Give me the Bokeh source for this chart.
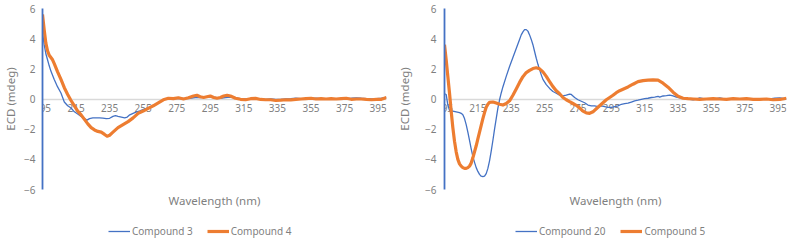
from bokeh.plotting import figure
from bokeh.models import FixedTicker, LinearAxis, Legend, LegendItem, Range1d
from bokeh.layouts import row, column
from bokeh.embed import file_html
from bokeh.resources import INLINE

# ---------------- data ----------------
x_ticks = [195, 215, 235, 255, 275, 295, 315, 335, 355, 375, 395]
y_ticks = [-6, -4, -2, 0, 2, 4, 6]

# Left chart
c3_wl = [195, 196, 197, 198, 199, 200, 202, 204, 206, 208, 210, 212, 214, 216, 218, 220,
         221.5, 223, 225, 227, 229, 231, 233, 235, 237, 238.5, 240, 242, 244, 245.5, 247,
         250, 253, 256, 259, 262, 265, 268, 271, 274, 277, 280, 283, 286, 289, 292, 295,
         298, 301, 304, 307, 310, 313, 316, 319, 322, 325, 328, 331, 334, 337, 340, 343,
         346, 349, 352, 355, 358, 361, 364, 367, 370, 373, 376, 379, 382, 385, 388, 391,
         394, 397, 400]
c3_ecd = [4.4, 3.6, 3.0, 2.6, 2.2, 1.85, 1.3, 0.8, 0.4, -0.2, -0.45, -0.6, -0.85, -1.0, -1.15, -1.3,
          -1.4, -1.3, -1.25, -1.25, -1.25, -1.27, -1.3, -1.28, -1.15, -1.1, -1.15, -1.2, -1.25, -1.2, -1.05,
          -0.9, -0.78, -0.65, -0.55, -0.4, -0.2, 0.0, 0.03, 0.02, 0.05, 0.02, 0.05, 0.1, 0.1, 0.12, 0.15,
          0.1, 0.05, 0.1, 0.12, 0.08, 0.03, 0.0, 0.02, 0.0, 0.0, -0.02, 0.0, -0.03, -0.02, 0.0, 0.02,
          0.05, 0.03, 0.0, 0.02, 0.05, 0.02, 0.03, 0.0, 0.02, 0.0, 0.03, 0.05, 0.08, 0.05, 0.03, 0.0,
          0.02, 0.05, 0.1]

c4_wl = [195, 196, 197, 198, 199, 200, 201, 202, 204, 206, 208, 210, 212, 214, 216, 218, 220, 222,
         224, 226, 228, 230, 232, 233.5, 235, 237, 240, 243, 246, 249, 252, 255, 258, 261, 264, 267,
         270, 273, 276, 279, 282, 285, 287, 289, 291, 293, 295, 297, 299, 301, 303, 305, 307, 310,
         313, 316, 319, 322, 325, 328, 331, 334, 337, 340, 343, 346, 349, 352, 355, 358, 361, 364,
         367, 370, 373, 376, 379, 382, 385, 388, 391, 394, 397, 400]
c4_ecd = [5.6, 4.6, 3.7, 3.2, 2.9, 2.75, 2.6, 2.35, 1.8, 1.3, 0.75, 0.3, -0.1, -0.45, -0.8, -1.05, -1.35, -1.65,
          -1.9, -2.05, -2.15, -2.2, -2.35, -2.47, -2.4, -2.2, -1.9, -1.7, -1.5, -1.25, -0.95, -0.8, -0.62, -0.45, -0.25, -0.05,
          0.05, 0.02, 0.08, 0.0, 0.08, 0.2, 0.25, 0.15, 0.1, 0.15, 0.2, 0.1, 0.05, 0.1, 0.2, 0.25, 0.2, 0.05,
          -0.02, -0.05, 0.02, 0.04, -0.03, -0.05, -0.05, -0.1, -0.08, -0.05, -0.06, -0.03, 0.0, 0.03, 0.05, 0.0, 0.02, 0.0,
          0.02, 0.0, 0.03, 0.05, -0.02, 0.0, 0.0, -0.03, -0.05, -0.02, -0.02, 0.1]

# Right chart
c20_wl = [195, 196, 197, 198, 199, 200, 202, 204, 205, 206, 207, 208, 209, 210, 211, 212, 213, 214,
          215, 216, 217, 218, 219, 220, 221, 222, 223, 224, 225, 226, 227, 228, 229, 230, 232, 234,
          236, 238, 240, 241, 242, 243, 244, 245, 246, 247, 248, 249, 250, 251, 252, 253, 254, 256,
          258, 260, 262, 264, 266, 268, 270, 271, 273, 275, 277, 279, 281, 283, 285, 287, 289, 291,
          293, 295, 297, 299, 301, 303, 305, 307, 309, 311, 313, 315, 317, 319, 321, 323, 324, 326,
          328, 330, 332, 334, 336, 338, 340, 342, 344, 346, 348, 350, 354, 358, 360, 362, 366, 370,
          374, 378, 382, 386, 390, 393, 396, 400]
c20_ecd = [0.35, 0.3, -0.4, -0.75, -0.8, -0.8, -0.85, -0.9, -0.95, -1.05, -1.3, -1.7, -2.2, -2.75, -3.3, -3.8, -4.2, -4.55,
           -4.8, -5.0, -5.12, -5.15, -5.12, -4.95, -4.6, -4.1, -3.45, -2.75, -2.0, -1.3, -0.6, -0.05, 0.4, 0.8, 1.5, 2.15,
           2.75, 3.35, 3.95, 4.25, 4.45, 4.6, 4.6, 4.5, 4.25, 3.95, 3.6, 3.15, 2.7, 2.3, 1.95, 1.6, 1.3, 0.95,
           0.7, 0.5, 0.38, 0.25, 0.2, 0.25, 0.33, 0.3, 0.1, -0.05, -0.15, -0.25, -0.4, -0.45, -0.45, -0.5, -0.45, -0.5,
           -0.55, -0.55, -0.5, -0.45, -0.35, -0.3, -0.28, -0.2, -0.12, -0.08, -0.03, 0.02, 0.05, 0.1, 0.13, 0.18, 0.12, 0.2,
           0.22, 0.25, 0.2, 0.12, 0.08, 0.04, 0.0, -0.03, -0.05, 0.0, 0.08, 0.02, 0.0, 0.02, 0.08, 0.02, 0.0, 0.02,
           0.0, 0.02, 0.0, 0.02, 0.0, 0.05, 0.08, 0.0]

c5_wl = [195, 196, 197, 198, 199, 200, 201, 202, 203, 204, 205, 206, 207, 208, 209, 210, 211, 212,
         213, 214, 215, 216, 217, 218, 219, 220, 221, 222, 224, 226, 228, 230, 232, 234, 236, 238,
         240, 242, 244, 246, 248, 250, 252, 254, 256, 258, 260, 262, 264, 266, 268, 270, 272, 274,
         276, 278, 280, 282, 284, 286, 288, 290, 292, 294, 296, 298, 300, 302, 305, 308, 311, 314,
         317, 320, 323, 326, 329, 332, 335, 338, 341, 344, 348, 352, 356, 360, 364, 368, 372, 376,
         380, 384, 388, 392, 396, 400]
c5_ecd = [3.6, 2.6, 1.5, 0.4, -0.8, -1.9, -2.8, -3.5, -4.0, -4.3, -4.45, -4.55, -4.6, -4.6, -4.55, -4.45, -4.25, -3.9,
          -3.5, -3.1, -2.65, -2.2, -1.75, -1.3, -0.9, -0.55, -0.35, -0.22, -0.2, -0.27, -0.35, -0.4, -0.3, -0.12, 0.25, 0.67,
          1.1, 1.48, 1.75, 1.9, 2.02, 2.07, 2.0, 1.8, 1.5, 1.15, 0.82, 0.55, 0.35, 0.1, -0.05, -0.18, -0.3, -0.42,
          -0.6, -0.8, -0.92, -0.95, -0.85, -0.65, -0.45, -0.25, -0.05, 0.1, 0.25, 0.42, 0.55, 0.65, 0.8, 0.98, 1.15, 1.22,
          1.25, 1.27, 1.25, 1.05, 0.78, 0.45, 0.18, 0.05, 0.02, 0.0, -0.02, 0.0, 0.02, 0.0, -0.02, 0.02, 0.0, 0.02,
          -0.02, -0.03, 0.0, -0.05, -0.03, 0.05]

assert len(c3_wl) == len(c3_ecd)
assert len(c4_wl) == len(c4_ecd)
assert len(c20_wl) == len(c20_ecd)
assert len(c5_wl) == len(c5_ecd)

# ---------------- style ----------------
GRAY = "#7f7f7f"
ZERO = "#d9d9d9"
BLUE = "#4472C4"
ORANGE = "#ED7D31"
FONT = "Noto Sans"
CHART_H = 210
LEGEND_H = 28


def make_chart(width, border_left, border_right, label_standoff, title_standoff, xa_, ya_, xb_, yb_):
    p = figure(width=width, height=CHART_H, output_backend="svg", toolbar_location=None,
               x_range=Range1d(195, 400), y_range=Range1d(-6, 6),
               min_border_left=border_left, min_border_right=border_right,
               min_border_top=8, min_border_bottom=20)
    p.outline_line_color = None
    p.grid.visible = False
    p.background_fill_color = "white"
    p.border_fill_color = "white"

    # horizontal axis crossing at zero (drawn beneath the curves)
    xa = p.xaxis[0]
    xa.fixed_location = 0
    xa.level = "underlay"
    xa.ticker = FixedTicker(ticks=x_ticks)
    xa.axis_line_color = ZERO
    xa.axis_line_width = 1.3
    xa.major_tick_line_color = None
    xa.minor_tick_line_color = None
    xa.major_tick_out = 0
    xa.major_tick_in = 0
    xa.major_label_standoff = 5
    xa.major_label_text_font = FONT
    xa.major_label_text_font_size = "10px"
    xa.major_label_text_color = GRAY

    # vertical axis
    ya = p.yaxis[0]
    ya.ticker = FixedTicker(ticks=y_ticks)
    ya.axis_line_color = BLUE
    ya.axis_line_width = 1.8
    ya.major_tick_line_color = None
    ya.minor_tick_line_color = None
    ya.major_tick_out = 0
    ya.major_tick_in = 0
    ya.major_label_standoff = label_standoff
    ya.major_label_text_font = FONT
    ya.major_label_text_font_size = "10px"
    ya.major_label_text_color = GRAY
    ya.axis_label = "ECD (mdeg)"
    ya.axis_label_standoff = title_standoff
    ya.axis_label_text_font = FONT
    ya.axis_label_text_font_size = "11.5px"
    ya.axis_label_text_font_style = "normal"
    ya.axis_label_text_color = GRAY

    # axis title below plot area
    title_axis = LinearAxis(ticker=FixedTicker(ticks=[]), axis_label="Wavelength (nm)",
                            axis_line_color=None, major_tick_line_color=None,
                            minor_tick_line_color=None, major_tick_out=0, major_tick_in=0,
                            major_label_standoff=0,
                            axis_label_standoff=3, axis_label_text_font=FONT,
                            axis_label_text_font_size="11.5px", axis_label_text_font_style="normal",
                            axis_label_text_color=GRAY)
    p.add_layout(title_axis, "below")

    p.line(xa_, ya_, line_color=BLUE, line_width=1.3)
    p.line(xb_, yb_, line_color=ORANGE, line_width=3.2, line_join="round")
    return p


def make_legend(width, x0, spacing, name_a, name_b):
    q = figure(width=width, height=LEGEND_H, output_backend="svg", toolbar_location=None,
               x_range=Range1d(0, 1), y_range=Range1d(0, 1),
               min_border_left=0, min_border_right=0, min_border_top=0, min_border_bottom=0)
    q.outline_line_color = None
    q.grid.visible = False
    q.axis.visible = False
    # proxy renderers (outside the visible range) used only for the legend swatches
    ra = q.line([5, 6], [5, 5], line_color=BLUE, line_width=1.3)
    rb = q.line([5, 6], [5, 5], line_color=ORANGE, line_width=3.2)
    legend = Legend(items=[LegendItem(label=name_a, renderers=[ra]),
                           LegendItem(label=name_b, renderers=[rb])],
                    orientation="horizontal", location=(x0, 0),
                    border_line_color=None, background_fill_alpha=0,
                    label_text_font=FONT, label_text_font_size="10px", label_text_color=GRAY,
                    glyph_width=22, glyph_height=12, label_height=12, label_standoff=2,
                    spacing=spacing, padding=0, margin=0)
    q.add_layout(legend, "center")
    return q


left = make_chart(394, 42, 8, 7, 3, c3_wl, c3_ecd, c4_wl, c4_ecd)
right = make_chart(396, 48, 4, 8, 10, c20_wl, c20_ecd, c5_wl, c5_ecd)
leg_left = make_legend(394, 108, 14, "Compound 3", "Compound 4")
leg_right = make_legend(396, 121, 15, "Compound 20", "Compound 5")

layout = column(row(left, right), row(leg_left, leg_right))
open("out.html", "w").write(file_html(layout, INLINE))
